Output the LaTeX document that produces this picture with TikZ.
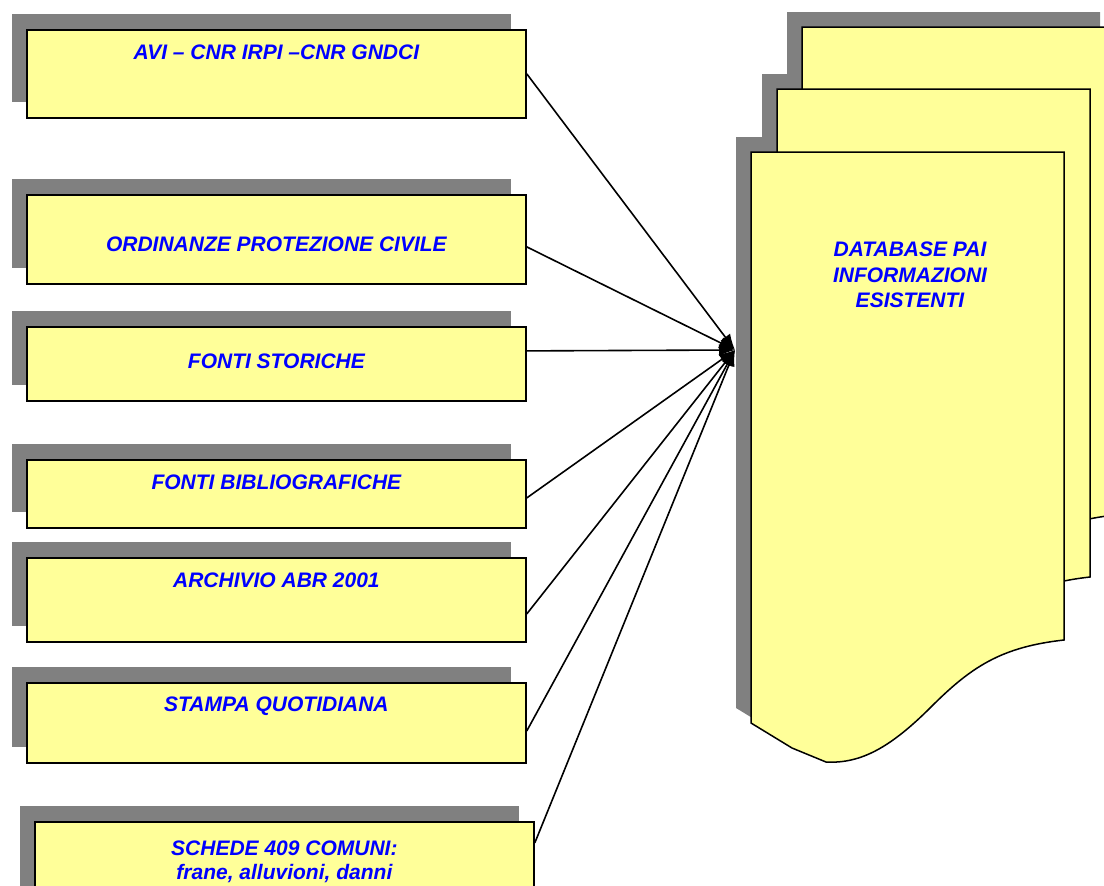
\documentclass[tikz,border=0pt]{standalone}
\usepackage{fontspec}
\setmainfont{Liberation Sans}
\usetikzlibrary{calc, positioning, shadows, arrows.meta}

\definecolor{boxyellow}{RGB}{255,255,153}
\definecolor{shadegray}{RGB}{128,128,128}
\definecolor{labelblue}{RGB}{0,0,255}

% contorno del documento (origine in alto a sinistra)
\newcommand{\docoutline}{(0,0) -- (313,0) -- (313,488)
  .. controls (250,495) and (220,515) .. (180,555)
  .. controls (140,595) and (110,612) .. (75,610)
  -- (41,596) -- (0,571) -- cycle}

\begin{document}
\begin{tikzpicture}[x=1pt, y=-1pt, >={Latex[length=16pt, width=12pt]},
    srcbox/.style={draw, line width=1.8pt, fill=boxyellow, anchor=north west,
      minimum width=499pt, inner sep=0pt,
      drop shadow={shadow xshift=-15pt, shadow yshift=16pt, fill=shadegray, opacity=1}},
    srctext/.style={font=\bfseries\itshape\fontsize{21}{24.5}\selectfont,
      text=labelblue, align=center},
    docshape/.style={draw, line width=1.5pt, fill=boxyellow}]
    \clip (0,0) rectangle (1104,886);

    % 1. Fonti
    \node[srcbox, minimum height=88pt] (b1) at (26,29) {};
    \node[srcbox, minimum height=89pt] (b2) at (26,194) {};
    \node[srcbox, minimum height=74pt] (b3) at (26,326) {};
    \node[srcbox, minimum height=68pt] (b4) at (26,459) {};
    \node[srcbox, minimum height=84pt] (b5) at (26,557) {};
    \node[srcbox, minimum height=80pt] (b6) at (26,682) {};
    \node[srcbox, minimum height=88pt] (b7) at (34,821) {};

    \node[srctext] (t1) at ($(b1.north)+(0,23)$) {AVI – CNR IRPI –CNR GNDCI};
    \node[srctext] (t2) at ($(b2.north)+(0,50)$) {ORDINANZE PROTEZIONE CIVILE};
    \node[srctext] (t3) at ($(b3.north)+(0,35)$) {FONTI STORICHE};
    \node[srctext] (t4) at ($(b4.north)+(0,23)$) {FONTI BIBLIOGRAFICHE};
    \node[srctext] (t5) at ($(b5.north)+(0,23)$) {ARCHIVIO ABR 2001};
    \node[srctext] (t6) at ($(b6.north)+(0,24)$) {STAMPA QUOTIDIANA};
    \node[srctext] (t7) at ($(b7.north)+(0,41)$) {SCHEDE 409 COMUNI:\\frane, alluvioni, danni};

    % 2. Documenti (ombre, poi fogli dal fondo)
    \foreach \p in {(802,27),(777,89),(751,152)}
        \fill[shadegray, shift=\p, shift={(-15,-15)}] \docoutline;
    \foreach \p in {(802,27),(777,89),(751,152)}
        \draw[docshape, shift=\p] \docoutline;
    \node[srctext, font=\bfseries\itshape\fontsize{21}{25.5}\selectfont]
        (db) at (910,275) {DATABASE PAI\\INFORMAZIONI\\ESISTENTI};

    % 3. Collegamenti
    \coordinate (hub) at (735,350);
    \foreach \b/\dy in {b1/0, b2/-7.5, b3/13, b4/-4, b5/-14, b6/-8, b7/23}
        \draw[->, line width=1.6pt] ([yshift=\dy pt]\b.east) -- (hub);
\end{tikzpicture}
\end{document}
